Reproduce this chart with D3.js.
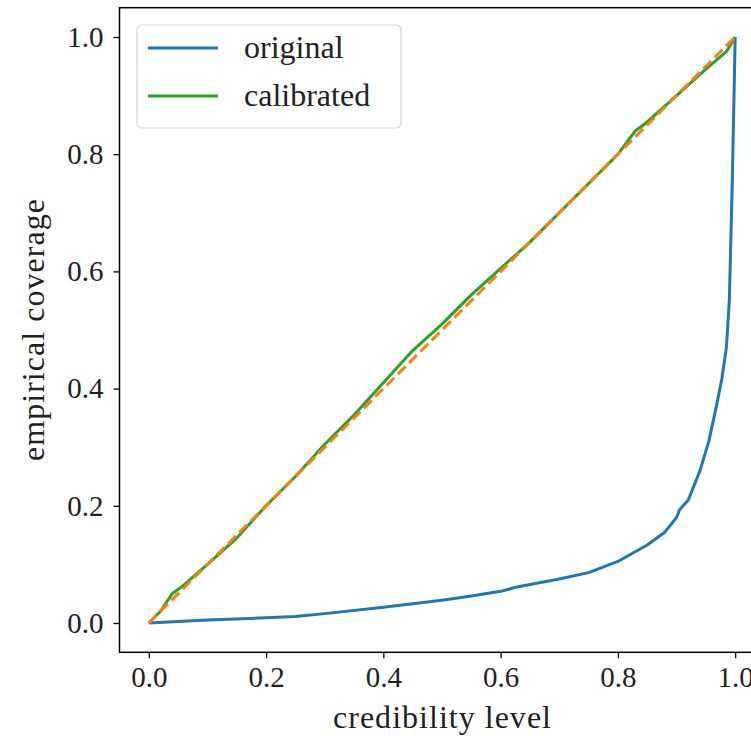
<!DOCTYPE html>
<html>
<head>
<meta charset="utf-8">
<script src="https://cdn.jsdelivr.net/npm/d3@7"></script>
<style>
  html, body { margin: 0; padding: 0; background: #fff; }
  svg { display: block; }
  text { font-family: "Liberation Serif", "DejaVu Serif", serif; fill: #222; }
</style>
</head>
<body>
<svg id="chart" width="751" height="736"></svg>
<script>
// ---- data ----
const originalX = [0.0, 0.1, 0.25, 0.3, 0.4, 0.5, 0.55, 0.6, 0.63, 0.7, 0.75, 0.8, 0.85, 0.88, 0.9, 0.905, 0.92, 0.94, 0.955, 0.968, 0.977, 0.985, 0.99, 0.995, 1.0];
const originalY = [0.0, 0.005, 0.011, 0.016, 0.027, 0.039, 0.046, 0.054, 0.062, 0.075, 0.086, 0.105, 0.133, 0.155, 0.18, 0.193, 0.21, 0.26, 0.31, 0.37, 0.415, 0.47, 0.55, 0.75, 1.0];
const calibratedX = [0.0, 0.02, 0.04, 0.06, 0.1, 0.15, 0.2, 0.25, 0.3, 0.35, 0.4, 0.45, 0.5, 0.55, 0.6, 0.65, 0.7, 0.75, 0.8, 0.83, 0.85, 0.9, 0.95, 0.985, 1.0];
const calibratedY = [0.0, 0.02, 0.05, 0.065, 0.1, 0.145, 0.2, 0.25, 0.305, 0.355, 0.41, 0.465, 0.51, 0.56, 0.605, 0.65, 0.7, 0.75, 0.8, 0.84, 0.855, 0.9, 0.945, 0.975, 1.0];
const diagonalX = [0.0, 1.0];
const diagonalY = [0.0, 1.0];
const tickValues = [0.0, 0.2, 0.4, 0.6, 0.8, 1.0];
const seriesNames = ["original", "calibrated"];
const seriesColors = ["#1f77b4", "#2ca02c"];
const xLabel = "credibility level";
const yLabel = "empirical coverage";

(function () {
// ---- layout ----
const svg = d3.select("#chart");
const pLeft = 119.5, pRight = 764.5, pTop = 7.7, pBottom = 652.3;
const x = d3.scaleLinear().domain([-0.05, 1.05]).range([pLeft, pRight]);
const y = d3.scaleLinear().domain([-0.05, 1.05]).range([pBottom, pTop]);

svg.append("defs").append("clipPath").attr("id", "plotclip")
  .append("rect").attr("x", pLeft).attr("y", pTop).attr("width", pRight - pLeft).attr("height", pBottom - pTop);

const plot = svg.append("g").attr("clip-path", "url(#plotclip)");
const line = d3.line().x(d => x(d[0])).y(d => y(d[1]));
const zip = (a, b) => a.map((v, i) => [v, b[i]]);

plot.append("path").datum(zip(originalX, originalY)).attr("d", line)
  .attr("fill", "none").attr("stroke", seriesColors[0]).attr("stroke-width", 3).attr("stroke-linejoin", "round");
plot.append("path").datum(zip(calibratedX, calibratedY)).attr("d", line)
  .attr("fill", "none").attr("stroke", seriesColors[1]).attr("stroke-width", 3).attr("stroke-linejoin", "round");
plot.append("path").datum(zip(diagonalX, diagonalY)).attr("d", line)
  .attr("fill", "none").attr("stroke", "#ff7f0e").attr("stroke-width", 3).attr("stroke-dasharray", "11,5");

// ---- axes ----
const fmt = d3.format(".1f");
const xAxis = svg.append("g").attr("transform", `translate(0,${pBottom})`)
  .call(d3.axisBottom(x).tickValues(tickValues).tickFormat(fmt).tickSize(6).tickPadding(8));
const yAxis = svg.append("g").attr("transform", `translate(${pLeft},0)`)
  .call(d3.axisLeft(y).tickValues(tickValues).tickFormat(fmt).tickSize(6).tickPadding(10));
[xAxis, yAxis].forEach(a => {
  a.select(".domain").remove();
  a.selectAll(".tick line").attr("stroke", "#000").attr("stroke-width", 1.3);
  a.selectAll(".tick text").attr("font-size", 29).attr("font-family", "Liberation Serif").attr("fill", "#222");
});

// spines
svg.append("rect").attr("x", pLeft).attr("y", pTop).attr("width", pRight - pLeft).attr("height", pBottom - pTop)
  .attr("fill", "none").attr("stroke", "#000").attr("stroke-width", 1.5);

// axis labels
svg.append("text").attr("x", (x(0) + x(1)) / 2).attr("y", 728).attr("text-anchor", "middle")
  .attr("font-size", 32).attr("textLength", 218).attr("lengthAdjust", "spacing").text(xLabel);
svg.append("text").attr("transform", `translate(44,${(y(0) + y(1)) / 2}) rotate(-90)`).attr("text-anchor", "middle")
  .attr("font-size", 32).attr("textLength", 262).attr("lengthAdjust", "spacing").text(yLabel);

// ---- legend ----
const lg = svg.append("g");
lg.append("rect").attr("x", 137).attr("y", 25).attr("width", 264).attr("height", 103).attr("rx", 5)
  .attr("fill", "#fff").attr("fill-opacity", 0.8).attr("stroke", "#d6d6d6").attr("stroke-width", 1.2);
seriesNames.forEach((name, i) => {
  const yy = 48 + i * 48;
  lg.append("line").attr("x1", 148).attr("x2", 218).attr("y1", yy).attr("y2", yy)
    .attr("stroke", seriesColors[i]).attr("stroke-width", 3);
  lg.append("text").attr("x", 244).attr("y", yy + 10).attr("font-size", 32).text(name);
});
})();
</script>
</body>
</html>
